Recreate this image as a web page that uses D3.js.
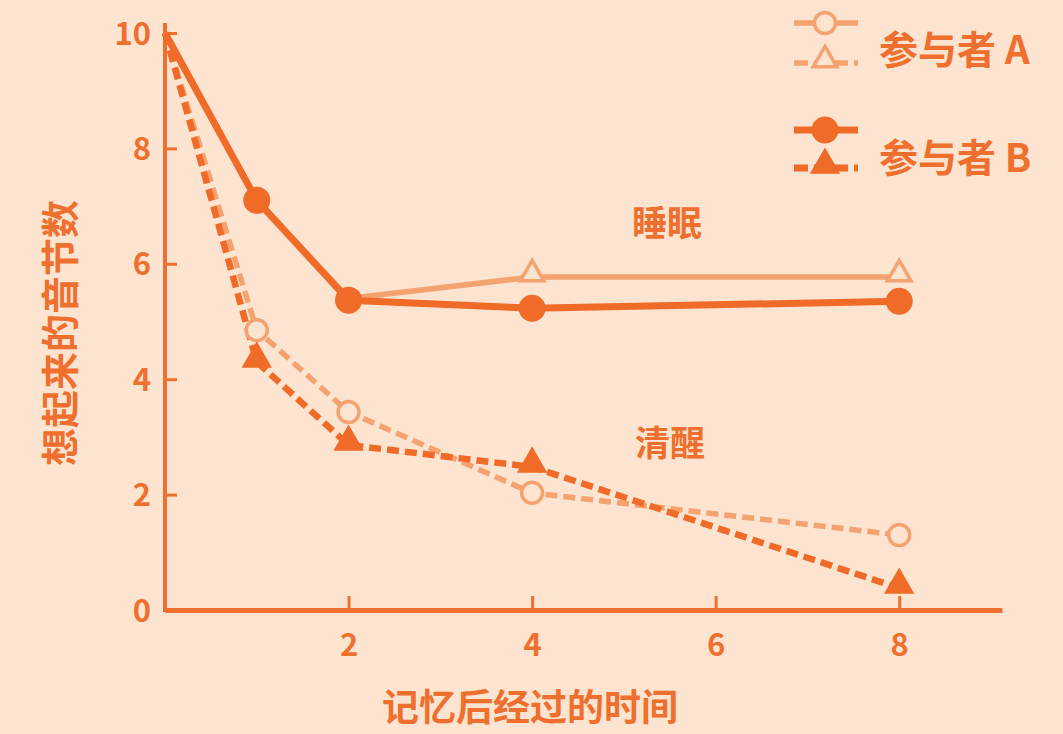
<!DOCTYPE html>
<html lang="zh">
<head>
  <meta charset="UTF-8">
  <style>
    body { margin: 0; background: #fce4d0; }
    svg { display: block; }
    text { font-family: "Noto Sans CJK SC", "Noto Sans", sans-serif; fill: #ef6f2e; }
    .tick text { font-size: 31px; font-weight: 600; }
    .axis path, .axis line { stroke: #ef6f2e; }
  </style>
</head>
<body>
<svg width="1063" height="734"></svg>
<script src="https://cdnjs.cloudflare.com/ajax/libs/d3/7.8.5/d3.min.js"></script>
<script>
  // data
  const hours = [0, 1, 2, 4, 8]
  const sleepA = [10, 7.1, 5.4, 5.77, 5.77]
  const sleepB = [10, 7.1, 5.37, 5.23, 5.35]
  const wakeA = [10, 4.85, 3.43, 2.03, 1.3]
  const wakeB = [10, 4.3, 2.86, 2.48, 0.38]
  const xTicks = [2, 4, 6, 8]
  const yTicks = [0, 2, 4, 6, 8, 10]
  const legendNames = ['参与者 A', '参与者 B']

  const dark = '#f06a28'
  const light = '#f4a26f'
  const bg = '#fce4d0'

  const svg = d3.select('svg')

  const x = d3.scaleLinear().domain([0, 9.12]).range([165, 1002])
  const y = d3.scaleLinear().domain([0, 10]).range([610, 33])

  // Axes
  // ====
  const xAxis = d3.axisBottom(x).tickValues(xTicks).tickSize(-14).tickPadding(24).tickSizeOuter(0)
  const yAxis = d3.axisLeft(y).tickValues(yTicks).tickSize(-12).tickPadding(14).tickSizeOuter(0)

  const gx = svg.append('g').attr('class', 'axis')
      .attr('transform', `translate(0, ${y(0)})`)
      .call(xAxis)
  gx.select('.domain').attr('stroke-width', 5)
  gx.selectAll('.tick line').attr('stroke-width', 3)
  gx.selectAll('.tick text').attr('fill', '#ef6f2e')

  const gy = svg.append('g').attr('class', 'axis')
      .attr('transform', `translate(${x(0)}, 0)`)
      .call(yAxis)
  gy.select('.domain').attr('stroke-width', 4).attr('d', `M0,${y(0) + 2}V23`)
  gy.selectAll('.tick line').attr('stroke-width', 3)
  gy.selectAll('.tick text').attr('fill', '#ef6f2e').attr('dy', '0.36em')

  // axis titles
  svg.append('text')
      .attr('transform', `translate(57, 333) rotate(-90)`)
      .attr('text-anchor', 'middle')
      .attr('dominant-baseline', 'central')
      .style('font-size', '38px').style('font-weight', 700)
      .text('想起来的音节数')
  svg.append('text')
      .attr('x', 530).attr('y', 705)
      .attr('text-anchor', 'middle')
      .attr('dominant-baseline', 'central')
      .style('font-size', '37px').style('font-weight', 700)
      .text('记忆后经过的时间')

  // Series
  // ======
  const line = d3.line()
      .x(d => x(d[0]))
      .y(d => y(d[1]))
  const pts = vals => hours.map((h, i) => [h, vals[i]])

  const triangle = d3.symbol().type(d3.symbolTriangle)

  function drawLine(vals, color, width, dashed) {
    svg.append('path')
        .datum(pts(vals))
        .attr('d', line)
        .attr('fill', 'none')
        .attr('stroke', color)
        .attr('stroke-width', width)
        .attr('stroke-linejoin', 'round')
        .attr('stroke-dasharray', dashed ? '12,6' : null)
  }
  function drawCircles(data, color, filled, r) {
    svg.append('g').selectAll('circle')
        .data(data)
      .enter().append('circle')
        .attr('cx', d => x(d[0]))
        .attr('cy', d => y(d[1]))
        .attr('r', r)
        .attr('fill', filled ? color : bg)
        .attr('stroke', color)
        .attr('stroke-width', filled ? 0 : 3.5)
  }
  function drawTriangles(data, color, filled, size) {
    svg.append('g').selectAll('path')
        .data(data)
      .enter().append('path')
        .attr('d', triangle.size(size))
        .attr('transform', d => `translate(${x(d[0])}, ${y(d[1]) - 3})`)
        .attr('fill', filled ? color : bg)
        .attr('stroke', color)
        .attr('stroke-width', filled ? 0 : 3.5)
  }

  drawLine(wakeA, light, 5.5, true)
  drawLine(sleepA, light, 5.5, false)
  drawLine(wakeB, dark, 6.5, true)
  drawLine(sleepB, dark, 7, false)

  // participant A's sleep markers at 1h and 2h sit under B's circles
  const sleepAShown = pts(sleepA).slice(1).filter((d, i) => Math.abs(d[1] - sleepB[i + 1]) > 0.2)

  drawCircles(pts(wakeA).slice(1), light, false, 10.5)
  drawTriangles(sleepAShown, light, false, 240)
  drawTriangles(pts(wakeB).slice(1), dark, true, 400)
  drawCircles(pts(sleepB).slice(1), dark, true, 13.5)

  // Legend
  // ======
  const legend = svg.append('g')
  const rows = [
    { cy: 23, color: light, kind: 'circle', filled: false, dashed: false },
    { cy: 63, color: light, kind: 'tri', filled: false, dashed: true },
    { cy: 130, color: dark, kind: 'circle', filled: true, dashed: false },
    { cy: 168, color: dark, kind: 'tri', filled: true, dashed: true },
  ]
  rows.forEach(r => {
    legend.append('line')
        .attr('x1', 794).attr('x2', 858)
        .attr('y1', r.cy).attr('y2', r.cy)
        .attr('stroke', r.color)
        .attr('stroke-width', r.filled ? 7 : 5.5)
        .attr('stroke-dasharray', r.dashed ? '14,6' : null)
    if (r.kind === 'circle') {
      legend.append('circle')
          .attr('cx', 825).attr('cy', r.cy)
          .attr('r', r.filled ? 13.5 : 10.5)
          .attr('fill', r.filled ? r.color : bg)
          .attr('stroke', r.color)
          .attr('stroke-width', r.filled ? 0 : 3.5)
    } else {
      legend.append('path')
          .attr('d', triangle.size(r.filled ? 400 : 240))
          .attr('transform', `translate(825, ${r.cy - 3})`)
          .attr('fill', r.filled ? r.color : bg)
          .attr('stroke', r.color)
          .attr('stroke-width', r.filled ? 0 : 3.5)
    }
  })
  legend.selectAll('text')
      .data(legendNames)
    .enter().append('text')
      .attr('x', 879)
      .attr('y', (d, i) => i === 0 ? 47 : 155)
      .attr('dominant-baseline', 'central')
      .style('font-size', '39px').style('font-weight', 700)
      .text(d => d)

  // in-chart labels
  svg.append('text')
      .attr('x', 667).attr('y', 220)
      .attr('text-anchor', 'middle').attr('dominant-baseline', 'central')
      .style('font-size', '35px').style('font-weight', 700)
      .text('睡眠')
  svg.append('text')
      .attr('x', 670).attr('y', 440)
      .attr('text-anchor', 'middle').attr('dominant-baseline', 'central')
      .style('font-size', '35px').style('font-weight', 700)
      .text('清醒')
</script>
</body>
</html>
